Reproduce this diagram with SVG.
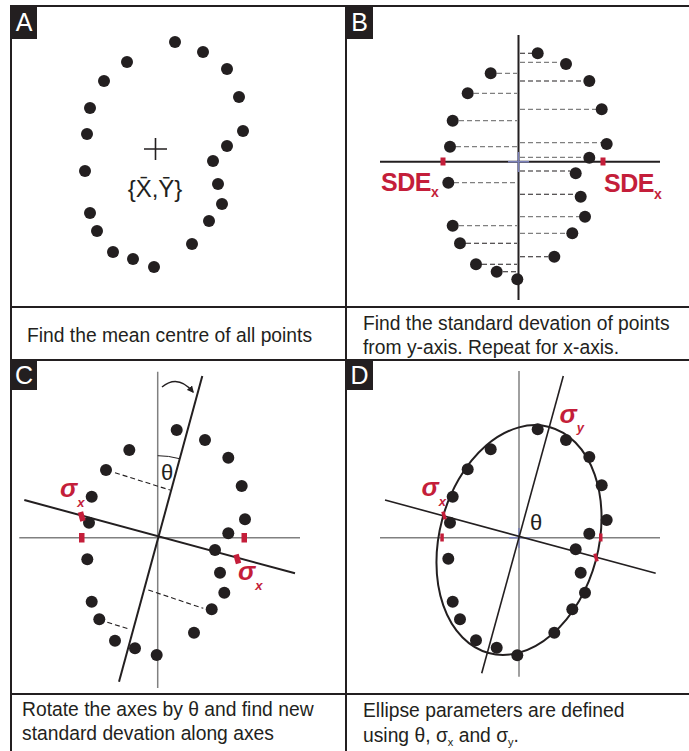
<svg xmlns="http://www.w3.org/2000/svg" width="689" height="751" viewBox="0 0 689 751">
<defs>
<style>
.frame{stroke:#231f20;stroke-width:2;fill:none}
.lbox{fill:#231f20}
.ltxt{fill:#fff;font-family:"Liberation Sans",Arial,sans-serif;font-size:25px;text-anchor:middle}
.dot{fill:#231f20}
.cap{font-family:"Liberation Sans",Arial,sans-serif;font-size:19.3px;fill:#231f20}
.axis{stroke:#231f20;stroke-width:2;fill:none}
.gaxis{stroke:#808080;stroke-width:1.5;fill:none}
.raxis{stroke:#231f20;stroke-width:2;fill:none}
.daxis{stroke:#231f20;stroke-width:1.6;fill:none}
.dg{stroke:#808080;stroke-width:1.2;stroke-dasharray:5 3;fill:none}
.dk{stroke:#231f20;stroke-width:1.1;stroke-dasharray:5 3;fill:none}
.red{fill:#c41e3a}
.sde{font-family:"Liberation Sans",Arial,sans-serif;font-weight:bold;fill:#c41e3a}
.sig{font-family:"Liberation Sans",Arial,sans-serif;font-weight:bold;font-style:italic;fill:#c41e3a}
.th{font-family:"Liberation Sans",Arial,sans-serif;font-size:22px;fill:#231f20;text-anchor:middle}
.blue{stroke:#7a80b8;stroke-width:1.5;fill:none}
</style>
<marker id="ah" viewBox="0 0 10 10" refX="8" refY="5" markerWidth="7" markerHeight="7" orient="auto" markerUnits="userSpaceOnUse">
<path d="M0,0 L10,5 L0,10 z" fill="#231f20"/>
</marker>
</defs>
<rect width="689" height="751" fill="#fff"/>

<g id="frame">
<line class="frame" x1="10" y1="6" x2="689" y2="6"/>
<line class="frame" x1="11" y1="6" x2="11" y2="751"/>
<line class="frame" x1="346" y1="6" x2="346" y2="751"/>
<line class="frame" x1="10" y1="307" x2="689" y2="307"/>
<line class="frame" x1="10" y1="360" x2="689" y2="360"/>
<line class="frame" x1="10" y1="694" x2="689" y2="694"/>
</g>

<g id="label-a"><rect class="lbox" x="11" y="6" width="26" height="33"/><text class="ltxt" x="24" y="31">A</text></g>
<g id="label-b"><rect class="lbox" x="346" y="6" width="27" height="33"/><text class="ltxt" x="359.5" y="31">B</text></g>
<g id="label-c"><rect class="lbox" x="11" y="360" width="26" height="30"/><text class="ltxt" x="24" y="384">C</text></g>
<g id="label-d"><rect class="lbox" x="346" y="360" width="27" height="30"/><text class="ltxt" x="359.5" y="384">D</text></g>

<g id="panel-a">
<g class="dot">
<circle cx="175" cy="42" r="6"/><circle cx="203" cy="52" r="6"/><circle cx="227" cy="69" r="6"/><circle cx="239" cy="97" r="6"/><circle cx="243" cy="131" r="6"/><circle cx="227" cy="146" r="6"/><circle cx="213" cy="161" r="6"/><circle cx="218" cy="184" r="6"/><circle cx="222" cy="204" r="6"/><circle cx="209" cy="221" r="6"/><circle cx="192" cy="244" r="6"/><circle cx="154" cy="267" r="6"/><circle cx="133" cy="259" r="6"/><circle cx="113" cy="252" r="6"/><circle cx="97" cy="231" r="6"/><circle cx="90" cy="213" r="6"/><circle cx="85" cy="171" r="6"/><circle cx="87" cy="134" r="6"/><circle cx="90" cy="108" r="6"/><circle cx="104" cy="81" r="6"/><circle cx="127" cy="62" r="6"/>
</g>
<path d="M144,149 H167 M155.5,138 V160" stroke="#231f20" stroke-width="1.6" fill="none"/>
<text x="155" y="197" font-family="'Liberation Sans',Arial,sans-serif" font-size="24" fill="#231f20" text-anchor="middle">{X&#x304;,Y&#x304;}</text>
</g>

<g id="panel-b">
<line class="axis" x1="518.5" y1="35" x2="518.5" y2="300"/>
<line class="axis" x1="380" y1="161.7" x2="660" y2="161.7"/>
<path class="blue" d="M508,161.7 H529 M518.5,152 V172"/>
<g id="b-connectors">
<line class="dk" x1="520" y1="53.3" x2="532" y2="53.3"/>
<line class="dg" x1="520" y1="62.3" x2="560" y2="62.3"/>
<line class="dk" x1="520" y1="81" x2="583" y2="81"/>
<line class="dg" x1="520" y1="109.3" x2="596" y2="109.3"/>
<line class="dg" x1="520" y1="142.7" x2="601" y2="142.7"/>
<line class="dg" x1="520" y1="157.3" x2="583" y2="157.3"/>
<line class="dk" x1="520" y1="171" x2="570" y2="171"/>
<line class="dk" x1="520" y1="194.3" x2="575" y2="194.3"/>
<line class="dg" x1="520" y1="216.7" x2="579" y2="216.7"/>
<line class="dg" x1="520" y1="233.3" x2="566" y2="233.3"/>
<line class="dk" x1="520" y1="256.7" x2="548" y2="256.7"/>
<line class="dg" x1="497" y1="73.3" x2="517" y2="73.3"/>
<line class="dg" x1="474" y1="93.3" x2="517" y2="93.3"/>
<line class="dg" x1="459" y1="120.7" x2="517" y2="120.7"/>
<line class="dg" x1="456" y1="146.7" x2="517" y2="146.7"/>
<line class="dg" x1="454" y1="182.7" x2="517" y2="182.7"/>
<line class="dg" x1="459" y1="225.7" x2="517" y2="225.7"/>
<line class="dk" x1="466" y1="243.3" x2="517" y2="243.3"/>
<line class="dk" x1="482" y1="264.3" x2="517" y2="264.3"/>
<line class="dk" x1="503" y1="271.7" x2="517" y2="271.7"/>
</g>
<g class="dot">
<circle cx="537.7" cy="53.3" r="6"/><circle cx="566" cy="64" r="6"/><circle cx="589.3" cy="81" r="6"/><circle cx="601.7" cy="109.3" r="6"/><circle cx="606.7" cy="144" r="6"/><circle cx="589.3" cy="157.7" r="6"/><circle cx="575.7" cy="173.3" r="6"/><circle cx="580.7" cy="196.7" r="6"/><circle cx="585" cy="216.7" r="6"/><circle cx="572.3" cy="233.3" r="6"/><circle cx="554.3" cy="256.7" r="6"/><circle cx="517.3" cy="279.3" r="6"/>
<circle cx="490.7" cy="73.3" r="6"/><circle cx="467.7" cy="93.3" r="6"/><circle cx="452.7" cy="120.7" r="6"/><circle cx="450" cy="146.7" r="6"/><circle cx="448.3" cy="182.7" r="6"/><circle cx="452.7" cy="225.7" r="6"/><circle cx="460" cy="243.3" r="6"/><circle cx="476" cy="264.3" r="6"/><circle cx="496.7" cy="271.7" r="6"/>
</g>
<rect class="red" x="440.5" y="157.5" width="5" height="8"/>
<rect class="red" x="600.5" y="157.5" width="5" height="8"/>
<text class="sde" x="381" y="190.5" font-size="25" letter-spacing="-0.5">SDE<tspan font-size="14" dy="6">x</tspan></text>
<text class="sde" x="604" y="192" font-size="25" letter-spacing="-0.5">SDE<tspan font-size="14" dy="7">x</tspan></text>
</g>

<g id="panel-c">
<line class="gaxis" x1="157.7" y1="371.7" x2="157.7" y2="688"/>
<line class="gaxis" x1="19.3" y1="537.7" x2="300" y2="537.7"/>
<line class="raxis" x1="202.3" y1="376" x2="119" y2="681.7"/>
<line class="raxis" x1="24.3" y1="500" x2="295" y2="573.3"/>
<path d="M162,387 Q178,374 193,392" stroke="#231f20" stroke-width="1.5" fill="none" marker-end="url(#ah)"/>
<path d="M157.7,455.7 A82,82 0 0,1 179.2,458.6" stroke="#231f20" stroke-width="1" fill="none"/>
<text class="th" x="167" y="480">θ</text>
<g id="c-connectors">
<line class="dk" x1="115" y1="472.7" x2="170" y2="490"/>
<line class="dk" x1="148.3" y1="590" x2="203.3" y2="608.3"/>
<line class="dk" x1="107.3" y1="622.3" x2="130" y2="629.3"/>
</g>
<g class="dot">
<circle cx="176.7" cy="430" r="6"/><circle cx="205" cy="440" r="6"/><circle cx="228.3" cy="457.7" r="6"/><circle cx="241.7" cy="486" r="6"/><circle cx="245" cy="519.3" r="6"/><circle cx="228.3" cy="533.3" r="6"/><circle cx="215" cy="550" r="6"/><circle cx="220" cy="572.7" r="6"/><circle cx="224.3" cy="592.7" r="6"/><circle cx="211.7" cy="609.3" r="6"/><circle cx="194" cy="632.7" r="6"/><circle cx="156.7" cy="655" r="6"/><circle cx="135" cy="648.3" r="6"/><circle cx="115" cy="640.7" r="6"/><circle cx="99.3" cy="619.3" r="6"/><circle cx="91.7" cy="601.7" r="6"/><circle cx="87.3" cy="559.3" r="6"/><circle cx="89" cy="522.7" r="6"/><circle cx="91.7" cy="496.7" r="6"/><circle cx="106" cy="470" r="6"/><circle cx="129.3" cy="450" r="6"/>
</g>
<rect class="red" x="79" y="533" width="5.5" height="9.5"/>
<rect class="red" x="241.5" y="533" width="5.5" height="9.5"/>
<rect class="red" x="-2.75" y="-4.75" width="5.5" height="9.5" transform="translate(81.7,516.5) rotate(-15.2)"/>
<rect class="red" x="-2.75" y="-4.75" width="5.5" height="9.5" transform="translate(237.3,559) rotate(-15.2)"/>
<text class="sig" x="60" y="497" font-size="26">σ<tspan font-size="13" dy="10">x</tspan></text>
<text class="sig" x="238" y="580" font-size="26">σ<tspan font-size="13" dy="10">x</tspan></text>
</g>

<g id="panel-d">
<line class="gaxis" x1="519" y1="371" x2="519" y2="676.7"/>
<line class="gaxis" x1="380" y1="537.7" x2="660" y2="537.7"/>
<path class="blue" d="M509,537.7 H530 M519,528 V548"/>
<line class="daxis" x1="563.3" y1="376" x2="481.7" y2="673.3"/>
<line class="daxis" x1="385" y1="500" x2="655.7" y2="573.3"/>
<ellipse cx="519" cy="540" rx="79.5" ry="117" transform="rotate(15 519 540)" stroke="#231f20" stroke-width="2" fill="none"/>
<g class="dot">
<circle cx="537.7" cy="429.3" r="6"/><circle cx="566" cy="440" r="6"/><circle cx="589.3" cy="457" r="6"/><circle cx="601.7" cy="485.3" r="6"/><circle cx="606.7" cy="520" r="6"/><circle cx="589.3" cy="533.7" r="6"/><circle cx="575.7" cy="549.3" r="6"/><circle cx="580.7" cy="572.7" r="6"/><circle cx="585" cy="592.7" r="6"/><circle cx="572.3" cy="609.3" r="6"/><circle cx="554.3" cy="632.7" r="6"/><circle cx="517.3" cy="655.3" r="6"/>
<circle cx="490.7" cy="449.3" r="6"/><circle cx="467.7" cy="469.3" r="6"/><circle cx="452.7" cy="496.7" r="6"/><circle cx="450" cy="522.7" r="6"/><circle cx="448.3" cy="558.7" r="6"/><circle cx="452.7" cy="601.7" r="6"/><circle cx="460" cy="619.3" r="6"/><circle cx="476" cy="640.3" r="6"/><circle cx="496.7" cy="647.7" r="6"/>
</g>
<rect class="red" x="440.3" y="533.5" width="3.5" height="8"/>
<rect class="red" x="599" y="533.5" width="3.5" height="8"/>
<rect class="red" x="-1.75" y="-4" width="3.5" height="8" transform="translate(444,515.5) rotate(-15.2)"/>
<rect class="red" x="-1.75" y="-4" width="3.5" height="8" transform="translate(596,557.5) rotate(-15.2)"/>
<text class="th" x="536" y="530">θ</text>
<text class="sig" x="421.5" y="496" font-size="26">σ<tspan font-size="13" dy="10">x</tspan></text>
<text class="sig" x="559.5" y="423" font-size="26">σ<tspan font-size="13" dy="9">y</tspan></text>
</g>

<g id="captions">
<text class="cap" x="27" y="342">Find the mean centre of all points</text>
<text class="cap" x="363" y="330">Find the standard devation of points</text>
<text class="cap" x="363" y="354">from y-axis. Repeat for x-axis.</text>
<text class="cap" x="22" y="716">Rotate the axes by θ and find new</text>
<text class="cap" x="22" y="740">standard devation along axes</text>
<text class="cap" x="363" y="717">Ellipse parameters are defined</text>
<text class="cap" x="363" y="742">using θ, σ<tspan font-size="11" dy="4">x</tspan><tspan dy="-4"> and σ</tspan><tspan font-size="11" dy="4">y</tspan><tspan dy="-4">.</tspan></text>
</g>
</svg>
